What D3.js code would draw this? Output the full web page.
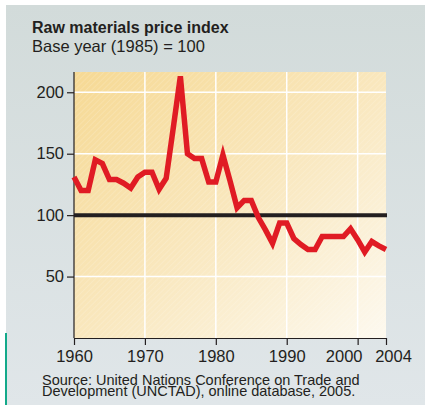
<!DOCTYPE html>
<html>
<head>
<meta charset="utf-8">
<script src="https://cdn.jsdelivr.net/npm/d3@7"></script>
<style>
  html, body { margin: 0; padding: 0; background: #ffffff; }
  svg { display: block; }
  text { font-family: "Liberation Sans", Arial, Helvetica, sans-serif; fill: #231f20; }
</style>
</head>
<body>
<svg id="chart" width="425" height="405"></svg>
<script>
// Annual raw materials price index, 1985 = 100
const years = d3.range(1960, 2005);
const priceIndex = [
  131, 120, 120, 145, 142, 129, 129, 126, 122, 131,
  135, 135, 121, 130, 171, 213, 150, 146, 146, 127,
  127, 149, 128, 106, 112, 112, 98, 88, 77, 93.5,
  93.5, 81, 76, 72, 72, 82.6, 82.6, 82.6, 82.6, 89,
  80, 70, 78.5, 75, 72
];
const baseValue = 100;
const xTickValues = [1960, 1970, 1980, 1990, 2000, 2004];
const yTickValues = [50, 100, 150, 200];
const gridYears = [1970, 1980, 1990, 2000];
const gridValues = [50, 150, 200];

const titleText = "Raw materials price index";
const subtitleText = "Base year (1985) = 100";
const sourceLines = [
  "Source: United Nations Conference on Trade and",
  "Development (UNCTAD), online database, 2005."
];

const svg = d3.select("#chart");
const plot = { left: 74, right: 386, top: 72, bottom: 338 };

const x = d3.scaleLinear().domain([1960, 2004]).range([plot.left, plot.right]);
const y = d3.scaleLinear().domain([0, 216.5]).range([plot.bottom, plot.top]);

const defs = svg.append("defs");

const panelGrad = defs.append("linearGradient")
  .attr("id", "panelGrad").attr("x1", 0).attr("y1", 0).attr("x2", 0).attr("y2", 1);
panelGrad.append("stop").attr("offset", "0%").attr("stop-color", "#d2dbda");
panelGrad.append("stop").attr("offset", "100%").attr("stop-color", "#e0e6e9");

const plotGrad = defs.append("linearGradient")
  .attr("id", "plotGrad").attr("x1", 0).attr("y1", 0).attr("x2", 1).attr("y2", 1);
plotGrad.append("stop").attr("offset", "0%").attr("stop-color", "#f6d994");
plotGrad.append("stop").attr("offset", "50%").attr("stop-color", "#f9e7bd");
plotGrad.append("stop").attr("offset", "100%").attr("stop-color", "#fdf9ef");

const hatch = defs.append("pattern")
  .attr("id", "hatch").attr("patternUnits", "userSpaceOnUse")
  .attr("width", 4).attr("height", 4)
  .attr("patternTransform", "rotate(45)");
hatch.append("line")
  .attr("x1", 0).attr("y1", 0).attr("x2", 0).attr("y2", 4)
  .attr("stroke", "#ffffff").attr("stroke-width", 1).attr("stroke-opacity", 0.28);

// background panel
svg.append("rect")
  .attr("x", 6).attr("y", 5).attr("width", 419).attr("height", 400)
  .attr("fill", "url(#panelGrad)");

// accent rule at lower left
svg.append("rect")
  .attr("x", 5).attr("y", 333).attr("width", 2).attr("height", 72)
  .attr("fill", "#13a98a");

// titles
svg.append("text").attr("x", 32).attr("y", 32.5)
  .attr("font-size", 16).attr("font-weight", "bold")
  .text(titleText);
svg.append("text").attr("x", 32).attr("y", 51.5)
  .attr("font-size", 16.5)
  .text(subtitleText);

// plot area
svg.append("rect")
  .attr("x", plot.left).attr("y", plot.top)
  .attr("width", plot.right - plot.left).attr("height", plot.bottom - plot.top)
  .attr("fill", "url(#plotGrad)");
svg.append("rect")
  .attr("x", plot.left).attr("y", plot.top)
  .attr("width", plot.right - plot.left).attr("height", plot.bottom - plot.top)
  .attr("fill", "url(#hatch)");

// white grid lines
svg.append("g").selectAll("line").data(gridYears).join("line")
  .attr("x1", d => x(d)).attr("x2", d => x(d))
  .attr("y1", plot.top).attr("y2", plot.bottom)
  .attr("stroke", "#ffffff").attr("stroke-width", 1.5);
svg.append("g").selectAll("line").data(gridValues).join("line")
  .attr("x1", plot.left).attr("x2", plot.right)
  .attr("y1", d => y(d)).attr("y2", d => y(d))
  .attr("stroke", "#ffffff").attr("stroke-width", 1.5);

// axes
const yAxis = d3.axisLeft(y).tickValues(yTickValues).tickSize(7).tickPadding(3).tickSizeOuter(0);
const yg = svg.append("g").attr("transform", `translate(${plot.left},0)`).call(yAxis);
yg.select(".domain").attr("d", `M0,${plot.top}V${plot.bottom}`);

const xAxis = d3.axisBottom(x).tickValues(xTickValues).tickFormat(d3.format("d"))
  .tickSize(7).tickPadding(5.5).tickSizeOuter(0);
const xg = svg.append("g").attr("transform", `translate(0,${plot.bottom})`).call(xAxis);

[yg, xg].forEach(g => {
  g.select(".domain").attr("stroke", "#231f20").attr("stroke-width", 1.2);
  g.selectAll(".tick line").attr("stroke", "#231f20").attr("stroke-width", 1.2);
  g.selectAll(".tick text")
    .attr("font-family", "Liberation Sans, Arial, sans-serif")
    .attr("font-size", 16.5).attr("fill", "#231f20");
});
// crowded end labels nudged apart
xg.selectAll(".tick text").attr("dx", d => d === 2000 ? -14 : d === 2004 ? 7 : 0);

// base-year reference line
svg.append("line")
  .attr("x1", plot.left).attr("x2", plot.right + 1)
  .attr("y1", y(baseValue)).attr("y2", y(baseValue))
  .attr("stroke", "#231f20").attr("stroke-width", 4);

// price index line
const line = d3.line().x((d, i) => x(years[i])).y(d => y(d));
svg.append("path")
  .datum(priceIndex)
  .attr("d", line)
  .attr("fill", "none")
  .attr("stroke", "#e01b24")
  .attr("stroke-width", 5.5)
  .attr("stroke-linejoin", "miter")
  .attr("stroke-miterlimit", 6);

// source note, set tight
svg.append("g").selectAll("text").data(sourceLines).join("text")
  .attr("x", 42).attr("y", (d, i) => 385 + i * 10.8)
  .attr("font-size", 14.5)
  .text(d => d);
</script>
</body>
</html>
